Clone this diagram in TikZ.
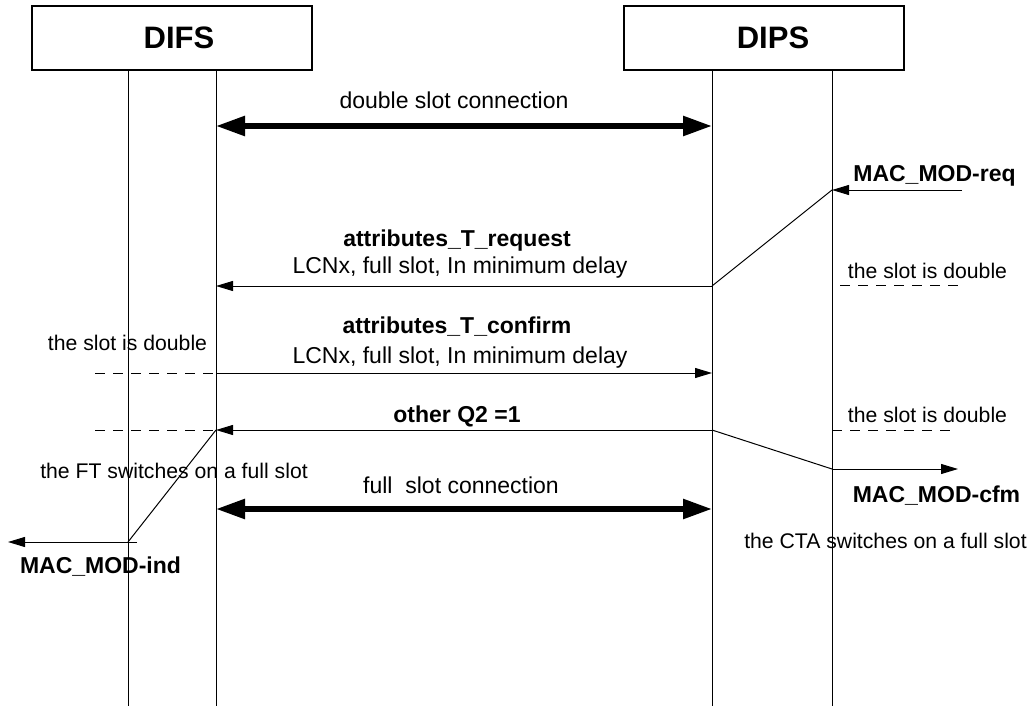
\documentclass[tikz,border=0pt]{standalone}
\usepackage{fontspec}
\setmainfont{Liberation Sans}
\usetikzlibrary{arrows.meta}
\begin{document}
\begin{tikzpicture}[x=1pt,y=-1pt,
  ent/.style={draw, line width=1.3pt, minimum width=280pt, minimum height=64pt, inner sep=0pt,
    font=\fontsize{31}{34}\selectfont\bfseries},
  life/.style={line width=1pt},
  msg/.style={line width=1pt, -{Triangle[length=17pt,width=10pt]}},
  plain/.style={line width=1pt},
  big/.style={line width=5.5pt, {Triangle[length=29pt,width=19pt]}-{Triangle[length=29pt,width=19pt]}},
  dsh/.style={line width=1pt, dash pattern=on 10pt off 8pt},
  lbl/.style={inner sep=0pt, anchor=base, font=\fontsize{23}{27}\selectfont},
  blbl/.style={inner sep=0pt, anchor=base, font=\fontsize{23}{27}\selectfont\bfseries},
  note/.style={inner sep=0pt, anchor=base, font=\fontsize{21.2}{25}\selectfont},
]
\useasboundingbox (0,0) rectangle (1036,706);

% entities
\node[ent] (difs) at (172,38) {\hspace{14pt}DIFS};
\node[ent] (dips) at (764,38) {\hspace{18pt}DIPS};

% lifeline ends
\coordinate (L1t) at (128,70);  \coordinate (L1b) at (128,706);
\coordinate (L2t) at (216,70);  \coordinate (L2b) at (216,706);
\coordinate (R1t) at (712,70);  \coordinate (R1b) at (712,706);
\coordinate (R2t) at (832,70);  \coordinate (R2b) at (832,706);
\draw[life] (L1t) -- (L1b);
\draw[life] (L2t) -- (L2b);
\draw[life] (R1t) -- (R1b);
\draw[life] (R2t) -- (R2b);

% double slot connection
\coordinate (dsA) at (216,126); \coordinate (dsB) at (712,126);
\draw[big] (dsA) -- (dsB);
\node[lbl] (dsl) at (454,109) {double slot connection};

% MAC_MOD-req
\coordinate (rqS) at (962,190); \coordinate (rqE) at (832,190);
\draw[msg] (rqS) -- (rqE);
\node[blbl] (rql) at (934.5,182) {MAC\_MOD-req};

% attributes_T_request
\coordinate (arS) at (712,286); \coordinate (arE) at (216,286);
\draw[plain] (rqE) -- (arS);
\draw[msg] (arS) -- (arE);
\node[blbl] (arl1) at (457,246) {attributes\_T\_request};
\node[lbl] (arl2) at (460,273) {LCNx, full slot, In minimum delay};

% note right 1
\coordinate (n1a) at (840,285); \coordinate (n1b) at (960,285);
\draw[dsh] (n1a) -- (n1b);
\node[note] (n1) at (927.5,278) {the slot is double};

% attributes_T_confirm
\coordinate (acS) at (216,373); \coordinate (acE) at (712,373);
\draw[msg] (acS) -- (acE);
\node[blbl] (acl1) at (457,333) {attributes\_T\_confirm};
\node[lbl] (acl2) at (460,363) {LCNx, full slot, In minimum delay};

% note left 1
\coordinate (n2a) at (95,373);
\draw[dsh] (n2a) -- (acS);
\node[note] (n2) at (127.5,350) {the slot is double};

% other Q2 =1
\coordinate (oqS) at (712,430); \coordinate (oqE) at (216,430);
\draw[msg] (oqS) -- (oqE);
\node[blbl] (oql) at (457,422) {other Q2 =1};
\coordinate (n3a) at (95,430);
\draw[dsh] (n3a) -- (oqE);
\coordinate (n4a) at (832,430); \coordinate (n4b) at (952,430);
\draw[dsh] (n4a) -- (n4b);
\node[note] (n4) at (927.5,422) {the slot is double};

% MAC_MOD-cfm
\coordinate (cfS) at (832,469); \coordinate (cfE) at (958,469);
\draw[plain] (oqS) -- (cfS);
\draw[msg] (cfS) -- (cfE);
\node[blbl] (cfl) at (936.5,502) {MAC\_MOD-cfm};

% FT note
\node[note] (ft) at (174,478) {the FT switches on a full slot};

% full slot connection
\coordinate (fsA) at (216,509); \coordinate (fsB) at (712,509);
\draw[big] (fsA) -- (fsB);
\node[lbl] (fsl) at (461,493) {full\ \ slot connection};

% MAC_MOD-ind
\coordinate (inP) at (128,542); \coordinate (inS) at (137,542); \coordinate (inE) at (8,542);
\draw[plain] (oqE) -- (inP);
\draw[msg] (inS) -- (inE);
\node[blbl] (inl) at (100.5,573) {MAC\_MOD-ind};

% CTA note
\node[note] (cta) at (885.5,548) {the CTA switches on a full slot};
\end{tikzpicture}
\end{document}
